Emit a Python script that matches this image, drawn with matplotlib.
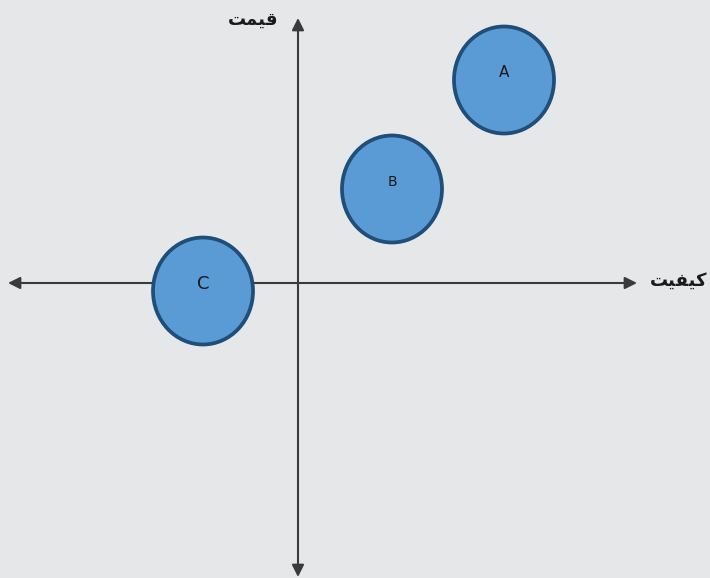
import matplotlib.pyplot as plt
from matplotlib.patches import Ellipse

# محصولات روی نقشه ادراکی (کیفیت، قیمت)
names = ["A", "B", "C"]
quality = [2.06, 0.94, -0.95]
price = [2.03, 0.94, -0.08]
name_sizes = [11, 10, 13]

# محدوده محورها
x_axis = (-2.90, 3.39)
y_axis = (-2.94, 2.65)

# برچسب محورها (فرم‌های نمایشی به ترتیب دیداری)
x_label = "\ufe96\ufbff\ufed4\ufbff\ufb90"   # کیفیت
y_label = "\ufe96\ufee4\ufbff\ufed7"         # قیمت

bg = "#e6e7e9"
fig = plt.figure(figsize=(7.10, 5.78), dpi=100, facecolor=bg)
ax = fig.add_axes([0, 0, 1, 1])
ax.set_facecolor(bg)
ax.set_xlim(-2.98, 4.12)
ax.set_ylim(-2.95, 2.83)
ax.axis("off")

arrow = dict(arrowstyle="-|>", color="#3a3a3a", lw=1.5,
             mutation_scale=18, shrinkA=0, shrinkB=0)
ax.annotate("", xy=(x_axis[1], 0), xytext=(0, 0), arrowprops=arrow)
ax.annotate("", xy=(x_axis[0], 0), xytext=(0, 0), arrowprops=arrow)
ax.annotate("", xy=(0, y_axis[1]), xytext=(0, 0), arrowprops=arrow)
ax.annotate("", xy=(0, y_axis[0]), xytext=(0, 0), arrowprops=arrow)

for n, q, p, s in zip(names, quality, price, name_sizes):
    e = Ellipse((q, p), 1.00, 1.07, facecolor="#5b9bd5",
                edgecolor="#1f4e79", lw=2.7, zorder=3)
    ax.add_patch(e)
    ax.text(q, p + 0.075, n, ha="center", va="center", fontsize=s,
            color="#1a1a1a", zorder=4)

ax.text(x_axis[1] + 0.13, 0.02, x_label, ha="left", va="center",
        fontsize=13, fontweight="bold", color="#1a1a1a")
ax.text(-0.20, y_axis[1] - 0.02, y_label, ha="right", va="center",
        fontsize=13, fontweight="bold", color="#1a1a1a")

fig.savefig("out.png", dpi=100, facecolor=bg)
